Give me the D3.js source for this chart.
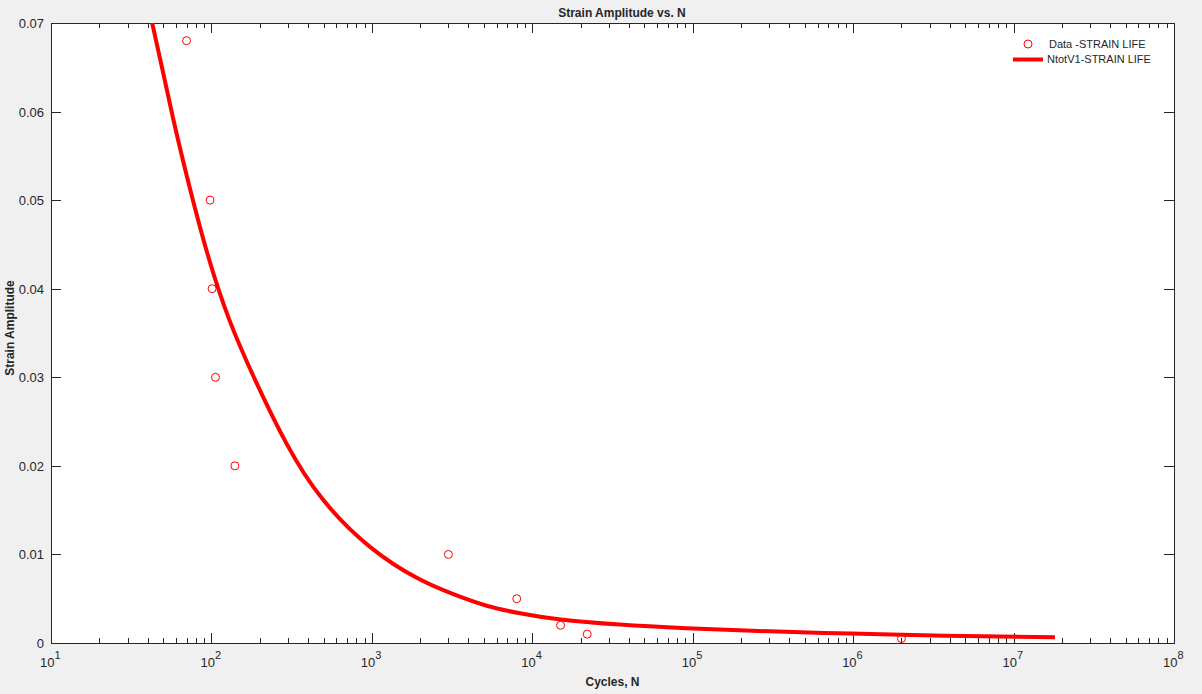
<!DOCTYPE html>
<html>
<head>
<meta charset="utf-8">
<script src="https://cdn.jsdelivr.net/npm/d3@7"></script>
<style>
  body { margin: 0; background: #f0f0f0; }
  svg { display: block; font-family: "Liberation Sans", Arial, sans-serif; }
  text { fill: #262626; }
</style>
</head>
<body>
<script>
// measured specimens
const dataN = [70, 98, 101, 106, 140, 3000, 8000, 15000, 22000, 2000000];
const dataStrain = [0.068, 0.05, 0.04, 0.03, 0.02, 0.01, 0.005, 0.002, 0.001, 0.0005];

// fitted strain-life curve
const fitN = [42.7, 47.1, 57.8, 72.8, 93.3, 127, 182, 294, 475, 973, 1995, 3220, 5200,
              8380, 13500, 35200, 91600, 238000, 1000000, 3480000, 18100000];
const fitStrain = [0.0700, 0.0666, 0.0590, 0.0515, 0.0440, 0.0365, 0.0301, 0.0222, 0.01615, 0.0105,
                   0.0070, 0.0055, 0.0041, 0.00335, 0.00268, 0.00203, 0.00166, 0.00135, 0.00105,
                   0.00082, 0.00064];

const yTicks = [0, 0.01, 0.02, 0.03, 0.04, 0.05, 0.06, 0.07];
const xDecades = [1, 2, 3, 4, 5, 6, 7, 8];

const seriesNames = ['Data -STRAIN LIFE', 'NtotV1-STRAIN LIFE'];

const width = 1202, height = 694;
const margin = { left: 51, top: 23, right: 28, bottom: 51 };
const red = '#ff0000';
const axisColor = '#262626';

const svg = d3.select('body').append('svg')
  .attr('width', width)
  .attr('height', height);

const x = d3.scaleLog()
  .domain([10, 1e8])
  .range([margin.left, width - margin.right]);

const y = d3.scaleLinear()
  .domain([0, 0.07])
  .range([height - margin.bottom, margin.top]);

const [x0, x1] = x.range();
const [y0, y1] = y.range();

svg.append('rect')
  .attr('x', x0).attr('y', y1)
  .attr('width', x1 - x0).attr('height', y0 - y1)
  .attr('fill', '#fff');

svg.append('clipPath').attr('id', 'plot')
  .append('rect')
  .attr('x', x0).attr('y', y1)
  .attr('width', x1 - x0).attr('height', y0 - y1);

// minor + major ticks on the log axis
const minorTicks = [];
for (let e = 1; e < 8; e++) {
  for (let m = 2; m <= 9; m++) minorTicks.push(m * Math.pow(10, e));
}
const majorTicks = xDecades.map((e) => Math.pow(10, e));

const ticks = svg.append('g')
  .attr('stroke', axisColor)
  .attr('stroke-width', 1)
  .attr('shape-rendering', 'crispEdges');

const tickLine = (x1_, y1_, x2_, y2_) => {
  ticks.append('line')
    .attr('x1', x1_).attr('y1', y1_)
    .attr('x2', x2_).attr('y2', y2_);
};

minorTicks.forEach((v) => {
  const px = Math.round(x(v)) + 0.5;
  tickLine(px, y0, px, y0 - 5);
  tickLine(px, y1, px, y1 + 5);
});
majorTicks.forEach((v) => {
  const px = Math.round(x(v)) + 0.5;
  tickLine(px, y0, px, y0 - 10);
  tickLine(px, y1, px, y1 + 10);
});
yTicks.forEach((v) => {
  const py = Math.round(y(v)) + 0.5;
  tickLine(x0, py, x0 + 10, py);
  tickLine(x1, py, x1 - 10, py);
});

// axes box
svg.append('rect')
  .attr('x', x0 + 0.5).attr('y', y1 + 0.5)
  .attr('width', x1 - x0).attr('height', y0 - y1)
  .attr('fill', 'none')
  .attr('stroke', axisColor)
  .attr('shape-rendering', 'crispEdges');

// y tick labels
svg.append('g').selectAll('text')
  .data(yTicks)
  .enter()
  .append('text')
  .attr('x', x0 - 7)
  .attr('y', (d) => y(d) + 5)
  .attr('text-anchor', 'end')
  .attr('font-size', 13)
  .text((d) => d === 0 ? '0' : d.toFixed(2));

// x tick labels as 10^e
const xl = svg.append('g').selectAll('text')
  .data(xDecades)
  .enter()
  .append('text')
  .attr('x', (d) => x(Math.pow(10, d)) - 11)
  .attr('y', y0 + 24)
  .attr('font-size', 13);
xl.append('tspan').text('10');
xl.append('tspan')
  .attr('dy', -8)
  .attr('font-size', 11)
  .text((d) => d);

// title and axis labels
svg.append('text')
  .attr('x', 622).attr('y', 17)
  .attr('text-anchor', 'middle')
  .attr('font-size', 12)
  .attr('font-weight', 'bold')
  .text('Strain Amplitude vs. N');

svg.append('text')
  .attr('x', (x0 + x1) / 2).attr('y', 686)
  .attr('text-anchor', 'middle')
  .attr('font-size', 12)
  .attr('font-weight', 'bold')
  .text('Cycles, N');

svg.append('text')
  .attr('transform', `translate(14,${(y0 + y1) / 2 - 5}) rotate(-90)`)
  .attr('text-anchor', 'middle')
  .attr('font-size', 12)
  .attr('font-weight', 'bold')
  .text('Strain Amplitude');

// fit curve
const fit = fitN.map((n, i) => ({ n: n, s: fitStrain[i] }));
const line = d3.line()
  .x((d) => x(d.n))
  .y((d) => y(d.s))
  .curve(d3.curveBasis);

svg.append('path')
  .datum(fit)
  .attr('clip-path', 'url(#plot)')
  .attr('d', line)
  .attr('fill', 'none')
  .attr('stroke', red)
  .attr('stroke-width', 4)
  .attr('stroke-linejoin', 'round');

// data markers
const pts = dataN.map((n, i) => ({ n: n, s: dataStrain[i] }));
svg.append('g').selectAll('circle')
  .data(pts)
  .enter()
  .append('circle')
  .attr('cx', (d) => x(d.n))
  .attr('cy', (d) => y(d.s))
  .attr('r', 4)
  .attr('fill', 'none')
  .attr('stroke', red)
  .attr('stroke-width', 1);

// legend (no box)
const legend = svg.append('g');
legend.append('circle')
  .attr('cx', 1028).attr('cy', 44).attr('r', 4)
  .attr('fill', 'none').attr('stroke', red);
legend.append('text')
  .attr('x', 1049).attr('y', 48)
  .attr('font-size', 11)
  .text(seriesNames[0]);
legend.append('line')
  .attr('x1', 1013).attr('x2', 1043)
  .attr('y1', 59.5).attr('y2', 59.5)
  .attr('stroke', red).attr('stroke-width', 4);
legend.append('text')
  .attr('x', 1047).attr('y', 63)
  .attr('font-size', 11)
  .text(seriesNames[1]);
</script>
</body>
</html>
